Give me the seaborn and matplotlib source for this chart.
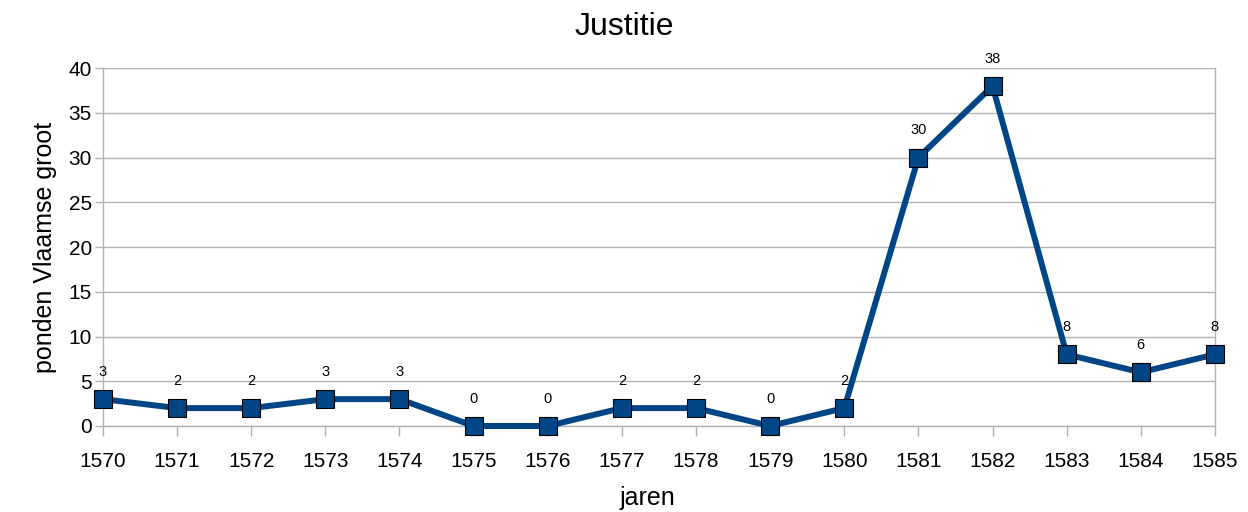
import numpy as np
import pandas as pd
import matplotlib
matplotlib.use("Agg")
import matplotlib.pyplot as plt
import seaborn as sns

jaren = [1570, 1571, 1572, 1573, 1574, 1575, 1576, 1577, 1578, 1579,
         1580, 1581, 1582, 1583, 1584, 1585]
ponden = [3, 2, 2, 3, 3, 0, 0, 2, 2, 0, 2, 30, 38, 8, 6, 8]

df = pd.DataFrame({"jaren": jaren, "ponden": ponden})

sns.set_style("white")
plt.rcParams['font.family'] = ['Liberation Sans', 'DejaVu Sans']
plt.rcParams['text.color'] = 'black'

fig = plt.figure(figsize=(12.48, 5.12), dpi=100)
ax = fig.add_axes([0.0825, 0.168, 0.891, 0.699])

sns.lineplot(data=df, x="jaren", y="ponden", ax=ax, color="#004586",
             linewidth=4.3, marker="s", markersize=13.5,
             markeredgecolor="black", markeredgewidth=0.8, zorder=3,
             clip_on=False)

# data labels above the points
for x, y in zip(jaren, ponden):
    ax.annotate(str(y), (x, y), xytext=(0, 19.5), textcoords="offset points",
                ha="center", va="center", fontsize=10.5, color="black")

ax.set_xlim(jaren[0], jaren[-1])
ax.set_ylim(0, 40)
ax.set_xticks(jaren)
ax.set_xticklabels([str(j) for j in jaren])
ax.set_yticks(range(0, 41, 5))
ax.yaxis.grid(True, color="#b3b3b3", linewidth=1)
ax.xaxis.grid(False)
for s in ["left", "right", "bottom"]:
    ax.spines[s].set_color("#b3b3b3")
    ax.spines[s].set_linewidth(1)
ax.spines["top"].set_visible(False)
ax.tick_params(axis="both", which="both", length=7, width=1, color="#b3b3b3",
               labelcolor="black", labelsize=15, pad=12, direction="out",
               bottom=True, left=True)
ax.tick_params(axis="y", pad=2, length=6)

ax.set_xlabel("")
fig.text(0.5, 0.948, "Justitie", fontsize=23, ha="center", va="center")
fig.text(0.519, 0.028, "jaren", fontsize=18, ha="center", va="center")
ax.set_ylabel("ponden Vlaamse groot", fontsize=18, labelpad=8, color="black")

fig.savefig("out.png", dpi=100)
